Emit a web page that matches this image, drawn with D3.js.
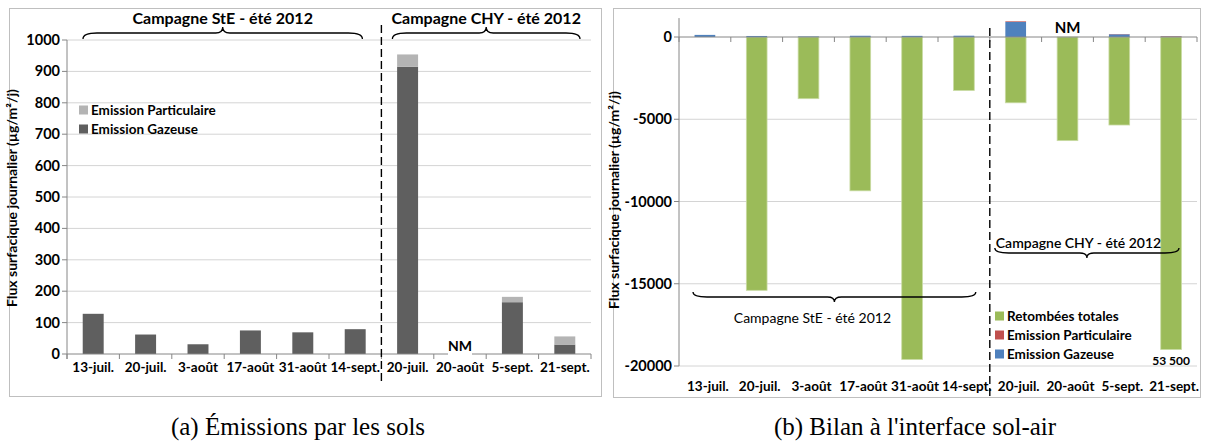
<!DOCTYPE html>
<html>
<head>
<meta charset="utf-8">
<script src="https://cdn.jsdelivr.net/npm/d3@7"></script>
<style>
  body { margin: 0; background: #fff; }
  svg text { font-family: Lato, "Open Sans", sans-serif; fill: #000; }
  .caption { font-family: "Liberation Serif", serif !important; }
</style>
</head>
<body>
<svg id="fig" width="1206" height="441"></svg>
<script>
"use strict";

// sampling dates, two field campaigns
var categories = ["13-juil.", "20-juil.", "3-août", "17-août", "31-août", "14-sept.",
                  "20-juil.", "20-août", "5-sept.", "21-sept."];
var campaigns = ["Campagne StE - été 2012", "Campagne CHY - été 2012"];
var campaignFirst = [0, 6];
var campaignLast = [5, 9];

// µg/m²/j, null = NM (non mesuré)
var emissionGazeuse = [128, 62, 31, 75, 69, 79, 915, null, 165, 30];
var emissionParticulaire = [0, 0, 0, 0, 0, 0, 39, null, 17, 26];
var retombeesTotales = [null, -15400, -3750, -9350, -19600, -3250, -4000, -6300, -5350, -53500];
var retombeesCut = -19000; // off-scale bar is cut here, real value written below

var ticksEmission = [0, 100, 200, 300, 400, 500, 600, 700, 800, 900, 1000];
var ticksBilan = [0, -5000, -10000, -15000, -20000];

var seriesNames = ["Retombées totales", "Emission Particulaire", "Emission Gazeuse"];
var yTitle = "Flux surfacique journalier (µg/m²/j)";
var captions = ["(a) Émissions par les sols", "(b) Bilan à l'interface sol-air"];

var COLORS = {
  gaz: "#5f5f5f", part: "#b4b4b4",
  green: "#9bbb59", red: "#c0504d", blue: "#4f81bd",
  grid: "#d4d4d4", axis: "#868686", frame: "#bfbfbf"
};
var BAR_RATIO = 0.4;

var svg = d3.select("#fig");

function bracePath(xa, xb, y, h, dir) {
  // dir = -1 : tip up, ends curl down ; dir = 1 : tip down, ends curl up
  var xm = (xa + xb) / 2;
  var r = 7;
  return "M" + xa + "," + (y - dir * h) +
    "Q" + xa + "," + y + " " + (xa + r * 2) + "," + y +
    "L" + (xm - r) + "," + y +
    "Q" + xm + "," + y + " " + xm + "," + (y + dir * h) +
    "Q" + xm + "," + y + " " + (xm + r) + "," + y +
    "L" + (xb - r * 2) + "," + y +
    "Q" + xb + "," + y + " " + xb + "," + (y - dir * h);
}

function drawBrace(g, xa, xb, y, dir, h) {
  g.append("path")
    .attr("d", bracePath(xa, xb, y, h, dir))
    .attr("fill", "none")
    .attr("stroke", "#000")
    .attr("stroke-width", 1.3);
}

function categoryTicks(g, x, yPos) {
  var bounds = d3.range(0, categories.length + 1).map(function (i) {
    return i < categories.length ? x(i) : x(i - 1) + x.bandwidth();
  });
  g.selectAll("line.xtick").data(bounds).enter().append("line")
    .attr("x1", function (d) { return d; })
    .attr("x2", function (d) { return d; })
    .attr("y1", yPos).attr("y2", yPos + 5)
    .attr("stroke", COLORS.axis);
}

function yAxis(g, y, ticks, xPos, yTop, yBottom) {
  g.selectAll("line.grid").data(ticks).enter().append("line")
    .attr("x1", xPos - 5)
    .attr("x2", xPos)
    .attr("y1", function (d) { return y(d); })
    .attr("y2", function (d) { return y(d); })
    .attr("stroke", COLORS.axis);
  g.append("line")
    .attr("x1", xPos).attr("x2", xPos)
    .attr("y1", yTop).attr("y2", yBottom)
    .attr("stroke", COLORS.axis);
  g.selectAll("text.ytick").data(ticks).enter().append("text")
    .attr("x", xPos - 7)
    .attr("y", function (d) { return y(d); })
    .attr("dy", "0.35em")
    .attr("text-anchor", "end")
    .attr("font-size", 14.5)
    .attr("font-weight", "bold")
    .text(function (d) { return d; });
}

function yTitleText(g, xPos, yPos) {
  g.append("text")
    .attr("transform", "translate(" + xPos + "," + yPos + ") rotate(-90)")
    .attr("text-anchor", "middle")
    .attr("font-size", 14)
    .attr("font-weight", "bold")
    .text(yTitle);
}

function legendBlock(g, items, x0, y0, step) {
  items.forEach(function (it, i) {
    g.append("rect")
      .attr("x", x0).attr("y", y0 + i * step - 4.5)
      .attr("width", 9).attr("height", 9)
      .attr("fill", it.color);
    g.append("text")
      .attr("x", x0 + 12).attr("y", y0 + i * step)
      .attr("dy", "0.35em")
      .attr("font-size", 13.5)
      .attr("font-weight", "bold")
      .text(it.name);
  });
}

function xLabels(g, x, yPos, shift) {
  g.selectAll("text.xlab").data(categories).enter().append("text")
    .attr("x", function (d, i) { return x(i) + x.bandwidth() / 2 + shift; })
    .attr("y", yPos)
    .attr("dy", "0.35em")
    .attr("text-anchor", "middle")
    .attr("font-size", 13.5)
    .attr("font-weight", "bold")
    .text(function (d) { return d; });
}

// ---------------- (a) emissions ----------------
(function () {
  var g = svg.append("g");
  var x = d3.scaleBand().domain(d3.range(categories.length)).range([67, 591]);
  var y = d3.scaleLinear().domain([0, 1000]).range([354, 40]);
  var bw = x.bandwidth() * BAR_RATIO;
  var xBar = function (i) { return x(i) + (x.bandwidth() - bw) / 2; };

  g.append("rect").attr("x", 9.5).attr("y", 8.5).attr("width", 592).attr("height", 388)
    .attr("fill", "#fff").attr("stroke", COLORS.frame);

  g.selectAll("line.hgrid").data(ticksEmission.slice(1)).enter().append("line")
    .attr("x1", 67).attr("x2", 591)
    .attr("y1", function (d) { return y(d); })
    .attr("y2", function (d) { return y(d); })
    .attr("stroke", COLORS.grid);

  yAxis(g, y, ticksEmission, 67, y(1000), y(0) + 5);

  var rows = categories.map(function (c, i) {
    return { i: i, gaz: emissionGazeuse[i], part: emissionParticulaire[i] };
  });

  g.selectAll("rect.gaz").data(rows.filter(function (d) { return d.gaz !== null; }))
    .enter().append("rect")
    .attr("x", function (d) { return xBar(d.i); })
    .attr("y", function (d) { return y(d.gaz); })
    .attr("width", bw)
    .attr("height", function (d) { return y(0) - y(d.gaz); })
    .attr("fill", COLORS.gaz);

  g.selectAll("rect.part").data(rows.filter(function (d) { return d.part; }))
    .enter().append("rect")
    .attr("x", function (d) { return xBar(d.i); })
    .attr("y", function (d) { return y(d.gaz + d.part); })
    .attr("width", bw)
    .attr("height", function (d) { return y(d.gaz) - y(d.gaz + d.part); })
    .attr("fill", COLORS.part);

  g.append("line")
    .attr("x1", 67).attr("x2", 591)
    .attr("y1", y(0)).attr("y2", y(0))
    .attr("stroke", COLORS.axis);
  categoryTicks(g, x, y(0));

  // NM label with white box over the axis
  rows.forEach(function (d) {
    if (d.gaz !== null) return;
    var cx = x(d.i) + x.bandwidth() / 2;
    g.append("rect").attr("x", cx - 12).attr("y", y(0) - 17).attr("width", 24).attr("height", 20).attr("fill", "#fff");
    g.append("text").attr("x", cx).attr("y", y(0) - 8).attr("dy", "0.35em")
      .attr("text-anchor", "middle").attr("font-size", 14).attr("font-weight", "bold").text("NM");
  });

  xLabels(g, x, 367, 0);

  g.append("line")
    .attr("x1", x(6)).attr("x2", x(6)).attr("y1", 25).attr("y2", 381)
    .attr("stroke", "#000").attr("stroke-width", 1.4).attr("stroke-dasharray", "8,4");

  campaigns.forEach(function (name, k) {
    var xa = x(campaignFirst[k]) + (k === 0 ? 16 : 11);
    var xb = x(campaignLast[k]) + x.bandwidth() - (k === 0 ? 19 : 11);
    drawBrace(g, xa, xb, 33, -1, 6);
    g.append("text").attr("x", (xa + xb) / 2).attr("y", 18).attr("dy", "0.35em")
      .attr("text-anchor", "middle").attr("font-size", 16).attr("font-weight", "bold").text(name);
  });

  legendBlock(g, [
    { name: seriesNames[1], color: COLORS.part },
    { name: seriesNames[2], color: COLORS.gaz }
  ], 79, 110, 19);

  yTitleText(g, 17, 198);
})();

// ---------------- (b) bilan ----------------
(function () {
  var g = svg.append("g");
  var x = d3.scaleBand().domain(d3.range(categories.length)).range([679, 1197]);
  var y = d3.scaleLinear().domain([-20000, 0]).range([366, 37]);
  var yMin = y.domain()[0];
  var bw = x.bandwidth() * BAR_RATIO;
  var xBar = function (i) { return x(i) + (x.bandwidth() - bw) / 2; };
  var shown = function (v) { return v < yMin ? retombeesCut : v; };

  g.append("rect").attr("x", 613.5).attr("y", 8.5).attr("width", 587).attr("height", 389)
    .attr("fill", "#fff").attr("stroke", COLORS.frame);

  g.selectAll("line.hgrid").data(ticksBilan.slice(1)).enter().append("line")
    .attr("x1", 679).attr("x2", 1197)
    .attr("y1", function (d) { return y(d); })
    .attr("y2", function (d) { return y(d); })
    .attr("stroke", COLORS.grid);

  yAxis(g, y, ticksBilan, 679, y(1150), y(-20000));

  var rows = categories.map(function (c, i) {
    return { i: i, ret: retombeesTotales[i], gaz: emissionGazeuse[i], part: emissionParticulaire[i] };
  });

  g.selectAll("rect.ret").data(rows.filter(function (d) { return d.ret !== null; }))
    .enter().append("rect")
    .attr("x", function (d) { return xBar(d.i); })
    .attr("y", y(0))
    .attr("width", bw)
    .attr("height", function (d) { return y(shown(d.ret)) - y(0); })
    .attr("fill", COLORS.green)
    .attr("stroke", "#c9dba3")
    .attr("stroke-width", 0.8);

  g.selectAll("rect.gaz").data(rows.filter(function (d) { return d.gaz !== null; }))
    .enter().append("rect")
    .attr("x", function (d) { return xBar(d.i); })
    .attr("y", function (d) { return y(d.gaz); })
    .attr("width", bw)
    .attr("height", function (d) { return y(0) - y(d.gaz); })
    .attr("fill", COLORS.blue);

  g.selectAll("rect.part").data(rows.filter(function (d) { return d.part; }))
    .enter().append("rect")
    .attr("x", function (d) { return xBar(d.i); })
    .attr("y", function (d) { return y(d.gaz + d.part); })
    .attr("width", bw)
    .attr("height", function (d) { return y(d.gaz) - y(d.gaz + d.part); })
    .attr("fill", COLORS.red);

  g.append("line")
    .attr("x1", 679).attr("x2", 1197)
    .attr("y1", y(0)).attr("y2", y(0))
    .attr("stroke", COLORS.axis);
  categoryTicks(g, x, y(0));

  rows.forEach(function (d) {
    var cx = x(d.i) + x.bandwidth() / 2;
    if (d.gaz === null) {
      g.append("text").attr("x", cx).attr("y", y(0) - 9).attr("dy", "0.35em")
        .attr("text-anchor", "middle").attr("font-size", 15).attr("font-weight", "bold").text("NM");
    }
    if (d.ret !== null && d.ret < yMin) {
      g.append("text").attr("x", cx).attr("y", y(retombeesCut) + 11).attr("dy", "0.35em")
        .attr("text-anchor", "middle").attr("font-size", 12).attr("font-weight", "bold")
        .text(d3.format(",")(-d.ret).replace(",", " "));
    }
  });

  xLabels(g, x, 386, 3);

  g.append("line")
    .attr("x1", x(6)).attr("x2", x(6)).attr("y1", 28).attr("y2", 397)
    .attr("stroke", "#000").attr("stroke-width", 1.4).attr("stroke-dasharray", "8,4");

  // StE brace below the bars, CHY brace on the right
  var steA = x(0) + 14, steB = x(6) - 14;
  drawBrace(g, steA, steB, 297, 1, 5);
  g.append("text").attr("x", (steA + steB) / 2 - 22).attr("y", 318).attr("dy", "0.35em")
    .attr("text-anchor", "middle").attr("font-size", 14).text(campaigns[0]);

  var chyA = x(6) + 5, chyB = x(9) + x.bandwidth() - 18;
  drawBrace(g, chyA, chyB, 253, 1, 5);
  g.append("text").attr("x", chyA + 1).attr("y", 243).attr("dy", "0.35em")
    .attr("text-anchor", "start").attr("font-size", 14).attr("font-weight", 600).text(campaigns[1]);

  legendBlock(g, [
    { name: seriesNames[0], color: COLORS.green },
    { name: seriesNames[1], color: COLORS.red },
    { name: seriesNames[2], color: COLORS.blue }
  ], 995, 316, 19);

  yTitleText(g, 619, 200);
})();

// captions
svg.selectAll("text.caption").data(captions).enter().append("text")
  .attr("class", "caption")
  .attr("x", function (d, i) { return i === 0 ? 298 : 915; })
  .attr("y", 426)
  .attr("dy", "0.35em")
  .attr("text-anchor", "middle")
  .attr("font-size", 25)
  .text(function (d) { return d; });
</script>
</body>
</html>
